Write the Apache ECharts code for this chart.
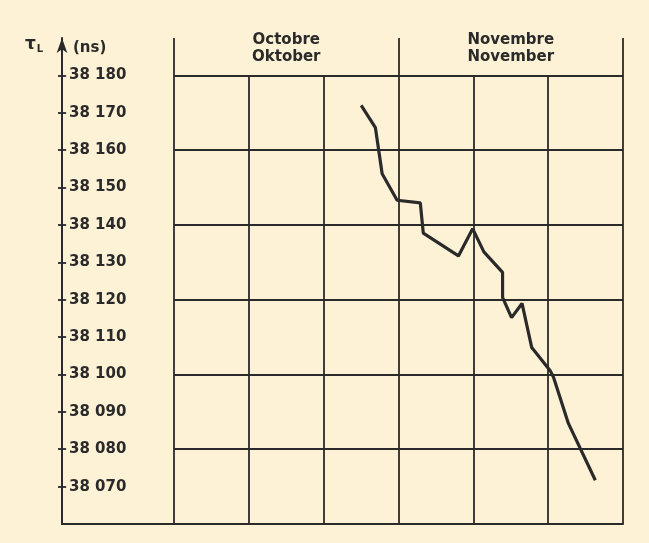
<!DOCTYPE html>
<html>
<head>
<meta charset="utf-8">
<script src="https://cdn.jsdelivr.net/npm/echarts@6/dist/echarts.min.js"></script>
<style>
html,body{margin:0;padding:0;background:#fdf2d6;}
#main{width:649px;height:543px;}
</style>
</head>
<body>
<div id="main"></div>
<script>
// days counted from 1 October, values in ns
let days=[25.0,26.9,27.8,29.8,32.9,33.3,38.0,39.9,41.4,43.9,43.9,45.1,46.5,47.8,50.3,50.7,52.7,56.3];
let values=[38172,38166,38153.7,38146.6,38145.9,38137.8,38131.7,38139,38132.8,38127.3,38120.6,38115.2,38119,38107.2,38100.9,38099.3,38086.9,38071.7];
let months=["Octobre\nOktober","Novembre\nNovember"];
let yTicks=[38070,38080,38090,38100,38110,38120,38130,38140,38150,38160,38170,38180];
let hLines=[38080,38100,38120,38140,38160,38180];
let vLong=[0,30,60];
let vShort=[10,20,40,50];

let ink="#2a2a2a";
let xMin=-15,xMax=60,yMin=38060,yMax=38190;

let grid=[];
hLines.forEach(function(v){grid.push([{coord:[0,v]},{coord:[xMax,v]}]);});
vLong.forEach(function(d){grid.push([{coord:[d,yMin]},{coord:[d,yMax]}]);});
vShort.forEach(function(d){grid.push([{coord:[d,yMin]},{coord:[d,38180]}]);});
// inner half of the "+" ticks on the y axis
yTicks.forEach(function(v){grid.push([{coord:[xMin,v]},{coord:[xMin+0.55,v]}]);});

let points=days.map(function(d,i){return [d,values[i]];});

var myChart=echarts.init(document.querySelector("#main"));
let option={
	backgroundColor:"#fdf2d6",
	animation:false,
	grid:[
		{left:62,right:26,top:38,bottom:19},
		{left:174,right:26,top:0,height:32}
	],
	xAxis:[{
		type:"value",
		min:xMin,
		max:xMax,
		axisLine:{onZero:false,lineStyle:{color:ink,width:2}},
		axisTick:{show:false},
		axisLabel:{show:false},
		splitLine:{show:false}
	},{
		type:"category",
		gridIndex:1,
		data:months,
		position:"bottom",
		axisLine:{show:false},
		axisTick:{show:false},
		axisLabel:{
			margin:0,
			color:ink,
			fontFamily:"DejaVu Sans",
			fontWeight:"bold",
			fontSize:15,
			lineHeight:17
		}
	}],
	yAxis:[{
		type:"value",
		min:yMin,
		max:yMax,
		interval:10,
		axisLine:{show:true,onZero:false,lineStyle:{color:ink,width:2},symbol:["none","arrow"],symbolSize:[8,15]},
		axisTick:{show:true,inside:false,length:4,customValues:yTicks,lineStyle:{color:ink,width:1.8}},
		splitLine:{show:false},
		axisLabel:{
			inside:true,
			margin:7,
			color:ink,
			fontFamily:"DejaVu Sans",
			fontWeight:"bold",
			fontSize:15,
			formatter:function(v){
				if(yTicks.indexOf(v)<0) return "";
				let s=String(v);
				return s.slice(0,2)+" "+s.slice(2);
			}
		}
	},{
		type:"value",
		gridIndex:1,
		show:false
	}],
	graphic:[{
		type:"text",
		left:25,
		top:36,
		style:{
			text:"{t|τ}{s|L}",
			rich:{
				t:{fontFamily:"DejaVu Sans",fontWeight:"bold",fontSize:17,fill:ink},
				s:{fontFamily:"DejaVu Sans",fontWeight:"bold",fontSize:10,fill:ink,padding:[10,0,0,1]}
			}
		}
	},{
		type:"text",
		left:73,
		top:41,
		style:{text:"(ns)",fontFamily:"DejaVu Sans",fontWeight:"bold",fontSize:15,fill:ink}
	}],
	series:[{
		type:"line",
		data:points,
		symbol:"none",
		lineStyle:{color:ink,width:3.2},
		z:5,
		markLine:{
			silent:true,
			symbol:["none","none"],
			label:{show:false},
			lineStyle:{color:ink,width:1.8,type:"solid"},
			data:grid
		}
	}]
};
myChart.setOption(option);
</script>
</body>
</html>
